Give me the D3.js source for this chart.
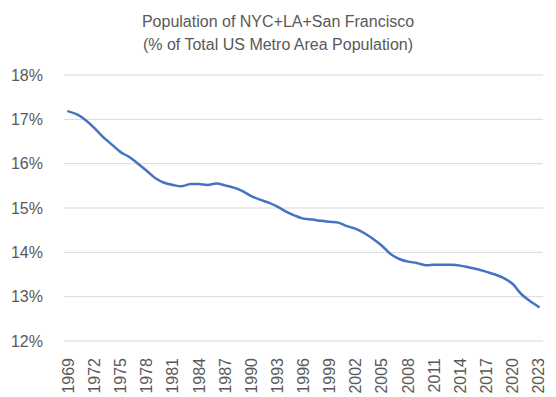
<!DOCTYPE html>
<html lang="en">
<head>
  <meta charset="UTF-8">
  <title>Population of NYC+LA+San Francisco</title>
  <script src="https://d3js.org/d3.v7.min.js"></script>
  <style>
    body { margin: 0; background: #fff; }
    svg text { font-family: "Liberation Sans", Arial, sans-serif; fill: #595959; }
  </style>
</head>
<body>
  <div id="chart"></div>
  <script>
    // years 1969..2023, share of US metro population (%)
    const years = d3.range(1969, 2024);
    const share = [
      17.18, 17.11, 16.98, 16.80, 16.60, 16.43, 16.26, 16.15, 16.00, 15.84,
      15.67, 15.57, 15.52, 15.49, 15.54, 15.54, 15.52, 15.55, 15.51, 15.46,
      15.38, 15.27, 15.19, 15.12, 15.03, 14.92, 14.83, 14.76, 14.74, 14.71,
      14.69, 14.67, 14.59, 14.53, 14.43, 14.30, 14.15, 13.96, 13.85, 13.79,
      13.76, 13.71, 13.72, 13.72, 13.72, 13.70, 13.66, 13.62, 13.56, 13.50,
      13.42, 13.29, 13.06, 12.90, 12.77
    ];
    const yTicks = [12, 13, 14, 15, 16, 17, 18];
    const labelYears = years.filter((d, i) => i % 3 === 0);
    const titleLines = ["Population of NYC+LA+San Francisco", "(% of Total US Metro Area Population)"];

    const width = 556, height = 397;
    const plot = { left: 64, right: 543, top: 75, bottom: 341 };

    const svg = d3.select("#chart")
      .append("svg")
      .attr("width", width)
      .attr("height", height);

    const x = d3.scaleBand()
      .domain(years)
      .range([plot.left, plot.right]);

    const y = d3.scaleLinear()
      .domain([12, 18])
      .range([plot.bottom, plot.top]);

    // gridlines
    svg.append("g")
      .selectAll("line")
      .data(yTicks)
      .enter().append("line")
      .attr("x1", plot.left)
      .attr("x2", plot.right)
      .attr("y1", d => y(d))
      .attr("y2", d => y(d))
      .attr("stroke", "#d9d9d9")
      .attr("stroke-width", 1);

    // y labels
    svg.append("g")
      .selectAll("text")
      .data(yTicks)
      .enter().append("text")
      .attr("x", 43)
      .attr("y", d => y(d))
      .attr("dy", "0.35em")
      .attr("text-anchor", "end")
      .style("font-size", "16px")
      .text(d => d + "%");

    // x labels (rotated)
    svg.append("g")
      .selectAll("text")
      .data(labelYears)
      .enter().append("text")
      .attr("transform", d => `translate(${x(d) + x.bandwidth() / 2},${plot.bottom + 17}) rotate(-90)`)
      .attr("dy", "0.35em")
      .attr("text-anchor", "end")
      .style("font-size", "16px")
      .text(d => d);

    // line
    const line = d3.line()
      .x((d, i) => x(years[i]) + x.bandwidth() / 2)
      .y(d => y(d))
      .curve(d3.curveCatmullRom);

    svg.append("path")
      .datum(share)
      .attr("d", line)
      .attr("fill", "none")
      .attr("stroke", "#4472c4")
      .attr("stroke-width", 2.5)
      .attr("stroke-linecap", "round");

    // title
    svg.append("g")
      .selectAll("text")
      .data(titleLines)
      .enter().append("text")
      .attr("x", 278)
      .attr("y", (d, i) => 27 + i * 23)
      .attr("text-anchor", "middle")
      .style("font-size", "16px")
      .text(d => d);
  </script>
</body>
</html>
